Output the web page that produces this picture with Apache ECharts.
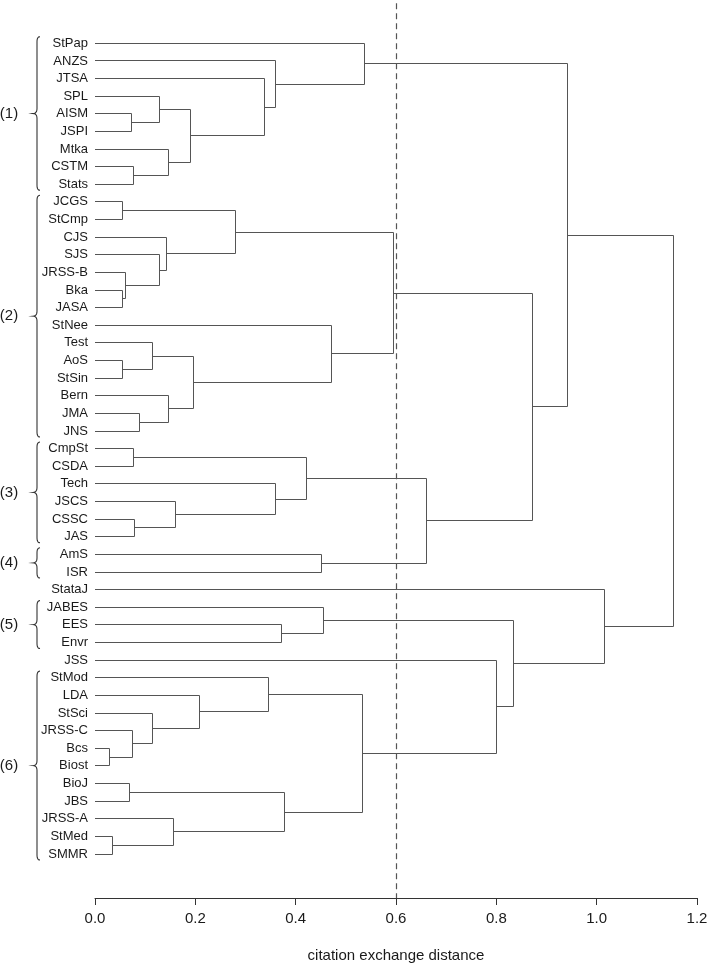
<!DOCTYPE html>
<html><head><meta charset="utf-8">
<script src="https://cdn.jsdelivr.net/npm/echarts@6/dist/echarts.min.js"></script>
<style>html,body{margin:0;padding:0;background:#fff}#c{width:709px;height:964px}</style>
</head><body><div id="c"></div>
<script>
// Leaves, top to bottom
const leaves = ['StPap','ANZS','JTSA','SPL','AISM','JSPI','Mtka','CSTM','Stats',
  'JCGS','StCmp','CJS','SJS','JRSS-B','Bka','JASA','StNee','Test','AoS','StSin','Bern','JMA','JNS',
  'CmpSt','CSDA','Tech','JSCS','CSSC','JAS',
  'AmS','ISR','StataJ','JABES','EES','Envr','JSS',
  'StMod','LDA','StSci','JRSS-C','Bcs','Biost','BioJ','JBS','JRSS-A','StMed','SMMR'];
// Merges in order: [left, right, height]; 'mK' refers to the K-th merge (1-based)
const merges = [
  ['AISM','JSPI',0.073], ['SPL','m1',0.128], ['CSTM','Stats',0.077], ['Mtka','m3',0.146],
  ['m2','m4',0.191], ['JTSA','m5',0.337], ['ANZS','m6',0.360], ['StPap','m7',0.537],
  ['JCGS','StCmp',0.055], ['Bka','JASA',0.055], ['JRSS-B','m10',0.061], ['SJS','m11',0.128],
  ['CJS','m12',0.142], ['m9','m13',0.280], ['AoS','StSin',0.055], ['Test','m15',0.115],
  ['JMA','JNS',0.088], ['Bern','m17',0.146], ['m16','m18',0.196], ['StNee','m19',0.471],
  ['m14','m20',0.595], ['CmpSt','CSDA',0.076], ['CSSC','JAS',0.078], ['JSCS','m23',0.161],
  ['Tech','m24',0.359], ['m22','m25',0.422], ['AmS','ISR',0.451], ['m26','m27',0.661],
  ['m21','m28',0.873], ['m8','m29',0.942], ['EES','Envr',0.372], ['JABES','m31',0.455],
  ['Bcs','Biost',0.029], ['JRSS-C','m33',0.075], ['StSci','m34',0.115], ['LDA','m35',0.208],
  ['StMod','m36',0.346], ['BioJ','JBS',0.068], ['StMed','SMMR',0.035], ['JRSS-A','m39',0.157],
  ['m38','m40',0.377], ['m37','m41',0.533], ['JSS','m42',0.800], ['m32','m43',0.835],
  ['StataJ','m44',1.015], ['m30','m45',1.154]
];
// Group braces: [label, first leaf, last leaf]
const groups = [['(1)','StPap','Stats'],['(2)','JCGS','JNS'],['(3)','CmpSt','JAS'],
  ['(4)','AmS','ISR'],['(5)','JABES','Envr'],['(6)','StMod','SMMR']];
const xTicks = [0, 0.2, 0.4, 0.6, 0.8, 1.0, 1.2];
const cutHeight = 0.6;
const xTitle = 'citation exchange distance';

const FONT = '"Liberation Sans", Arial, Helvetica, sans-serif';
const LINE = '#555555';
const TEXT = '#1a1a1a';

// resolve positions
const nodes = {};
leaves.forEach((n, i) => nodes[n] = {pos: i, h: 0});
const linkData = merges.map((m, k) => {
  const a = nodes[m[0]], b = nodes[m[1]];
  nodes['m' + (k + 1)] = {pos: (a.pos + b.pos) / 2, h: m[2]};
  return [a.h, a.pos, b.h, b.pos, m[2]];
});
const groupData = groups.map((g, i) => [leaves.indexOf(g[1]), leaves.indexOf(g[2]), i]);

function crisp(v) { return Math.round(v - 0.5) + 0.5; }

function renderLink(params, api) {
  const hA = api.value(0), pA = api.value(1), hB = api.value(2), pB = api.value(3), h = api.value(4);
  const pts = [api.coord([hA, pA]), api.coord([h, pA]), api.coord([h, pB]), api.coord([hB, pB])]
    .map(p => [p[0], crisp(p[1])]);
  pts[1][0] = crisp(pts[1][0]); pts[2][0] = crisp(pts[2][0]);
  return {type: 'polyline', shape: {points: pts}, silent: true,
    style: {stroke: LINE, lineWidth: 1, fill: null}};
}

function quad(p0, c, p1, n, out) {
  for (let i = 1; i <= n; i++) {
    const t = i / n, u = 1 - t;
    out.push([u*u*p0[0] + 2*u*t*c[0] + t*t*p1[0], u*u*p0[1] + 2*u*t*c[1] + t*t*p1[1]]);
  }
}
function renderBrace(params, api) {
  const s = api.value(0), e = api.value(1), gi = api.value(2);
  const x0 = api.coord([0, s])[0];
  const yT = api.coord([0, s])[1] - 6.6;
  const yB = api.coord([0, e])[1] + 6;
  const ym = (yT + yB) / 2;
  const xe = x0 - 55, xs = x0 - 58, xp = x0 - 62;
  const pts = [[xe, yT]];
  quad([xe, yT], [xs, yT], [xs, yT + 5], 6, pts);
  pts.push([xs, ym - 5]);
  quad([xs, ym - 5], [xs, ym], [xp, ym], 6, pts);
  quad([xp, ym], [xs, ym], [xs, ym + 5], 6, pts);
  pts.push([xs, yB - 5]);
  quad([xs, yB - 5], [xs, yB], [xe, yB], 6, pts);
  return {type: 'group', silent: true, children: [
    {type: 'polyline', shape: {points: pts}, style: {stroke: '#333', lineWidth: 1.1, fill: null}},
    {type: 'text', x: x0 - 86, y: ym, style: {text: groups[gi][0], fill: TEXT,
      font: '15px ' + FONT, textAlign: 'center', textVerticalAlign: 'middle',
      align: 'center', verticalAlign: 'middle'}}
  ]};
}

function renderCut(params, api) {
  const v = api.value(0);
  const p0 = api.coord([v, 0]), p1 = api.coord([v, leaves.length - 1]);
  const x = crisp(p0[0]);
  return {type: 'line', silent: true, shape: {x1: x, y1: p0[1] - 40, x2: x, y2: p1[1] + 44},
    style: {stroke: '#555', lineWidth: 1.2, lineDash: [6, 4]}};
}

const chart = echarts.init(document.getElementById('c'), null, {renderer: 'canvas'});
chart.setOption({
  animation: false,
  backgroundColor: '#fff',
  grid: {left: 95, right: 12, top: 43.3, bottom: 110, containLabel: false, outerBoundsMode: 'none'},
  xAxis: {
    type: 'value', min: xTicks[0], max: xTicks[xTicks.length - 1], interval: 0.2,
    offset: 44,
    axisLine: {show: true, onZero: false, lineStyle: {color: '#333', width: 1}},
    axisTick: {show: true, length: 7, inside: false, lineStyle: {color: '#333'}},
    axisLabel: {formatter: v => v.toFixed(1), fontSize: 15, fontFamily: FONT, color: TEXT, margin: 13},
    splitLine: {show: false},
    name: xTitle, nameLocation: 'middle', nameGap: 50,
    nameTextStyle: {fontSize: 15, fontFamily: FONT, color: TEXT}
  },
  yAxis: {
    type: 'value', inverse: true, min: 0, max: leaves.length - 1, interval: 1,
    axisLine: {show: false}, axisTick: {show: false}, splitLine: {show: false},
    axisLabel: {formatter: v => leaves[v] || '', fontSize: 13, fontFamily: FONT, color: TEXT, margin: 7}
  },
  series: [
    {type: 'custom', renderItem: renderCut, data: [[cutHeight]], clip: false, z: 1,
      encode: {x: 0}},
    {type: 'custom', renderItem: renderLink, data: linkData, clip: false, z: 2,
      encode: {x: [0, 2, 4], y: [1, 3]}},
    {type: 'custom', renderItem: renderBrace, data: groupData, clip: false, z: 3,
      encode: {y: [0, 1]}}
  ]
});
</script>
</body></html>
